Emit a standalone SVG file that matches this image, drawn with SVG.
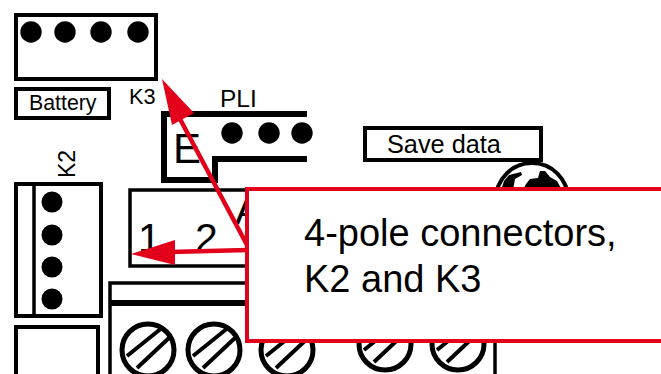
<svg xmlns="http://www.w3.org/2000/svg" width="661" height="374" viewBox="0 0 661 374">
<style>
text{font-family:"Liberation Sans",Arial,sans-serif;fill:#000}
.b{fill:none;stroke:#000;stroke-width:4}
.t{fill:none;stroke:#000;stroke-width:3.500}
.s{fill:none;stroke:#000;stroke-width:5}
.r{stroke:#e2001a;fill:none;stroke-width:4.500}
.h{fill:#e2001a}
</style>
<rect width="661" height="374" fill="#fff"/>
<g id="k3"><path class="b" d="M16 13V79H156V13M16 15H156"/>
<circle cx="31" cy="32" r="10.700"/><circle cx="65" cy="32" r="10.700"/><circle cx="101" cy="32" r="10.700"/><circle cx="138" cy="32" r="10.700"/>
<text x="129" y="104" font-size="21.700">K3</text></g>
<g id="battery"><rect class="b" x="16" y="89" width="93" height="29"/><text x="29" y="110" font-size="21.300">Battery</text></g>
<g id="pli"><text x="220" y="107" font-size="24.500">PLI</text>
<path d="M307 114H164V180H215V159H307" stroke="#000" stroke-width="6" fill="none"/>
<text x="173" y="163" font-size="42">E</text>
<circle cx="232" cy="133" r="10.700"/><circle cx="269" cy="133" r="10.700"/><circle cx="302" cy="133" r="10.700"/></g>
<g id="k2"><text transform="translate(75 178) rotate(-90)" font-size="23">K2</text>
<rect class="b" x="16" y="184" width="85" height="132"/><path class="t" d="M34 184V316"/>
<circle cx="52" cy="202" r="10.500"/><circle cx="52" cy="235" r="10.500"/><circle cx="52" cy="267" r="10.500"/><circle cx="52" cy="299" r="10.500"/></g>
<g id="terminal"><rect class="t" x="130" y="190" width="130" height="76"/>
<text x="138" y="252" font-size="41">1</text><text x="195" y="252" font-size="41">2</text><text x="235" y="224" font-size="41">A</text></g>
<g id="base"><path class="b" d="M16 374V327H98V374"/><path class="t" d="M110 374V283H260"/><path d="M109 303H260" stroke="#000" stroke-width="6"/></g>
<g id="screws">
<g class="s"><circle cx="148" cy="350" r="26"/><circle cx="214" cy="350" r="26"/><circle cx="287" cy="350" r="26"/><circle cx="385" cy="344" r="26"/><circle cx="458" cy="344" r="26"/></g>
<g stroke="#000" stroke-width="4" fill="none"><path d="M127 356 163 327M137 368 170 337M193 356 229 327M203 368 236 337M266 356 302 327M276 368 309 337M364 350 400 321M374 362 407 331M437 350 473 321M447 362 480 331"/></g>
<path class="t" d="M495 340V374"/></g>
<g id="savedata"><rect class="b" x="365" y="128" width="176" height="32"/><text x="387" y="153" font-size="25.300">Save data</text></g>
<g id="knob"><circle cx="532" cy="199" r="36" class="b"/>
<path d="M501 190 504 181 509 175 521 172 522 175 515 179 513 190ZM523 190 526 184 530 179 538 178 540 171 545 171 550 177 557 181 562 190Z"/></g>
<g id="connectors"><path class="r" d="M247 245 180 119"/><path class="r" d="M248 250 170 252"/>
<path class="h" d="M162 79 194 113 172 125ZM131 254 175 240V265Z"/></g>
<g id="callout"><rect x="247" y="189" width="430" height="152" fill="#fff" stroke="#e2001a" stroke-width="4"/>
<text font-size="38"><tspan x="304" y="246">4-pole connectors,</tspan><tspan x="304" y="292">K2 and K3</tspan></text></g>
</svg>
